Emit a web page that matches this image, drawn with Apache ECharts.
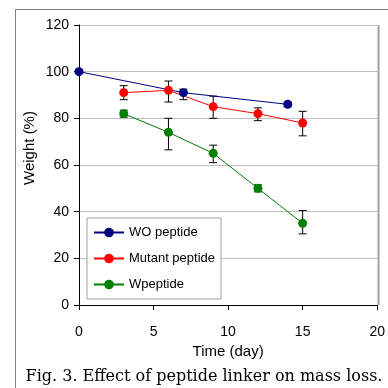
<!DOCTYPE html>
<html>
<head>
<meta charset="utf-8">
<script src="https://cdn.jsdelivr.net/npm/echarts@6/dist/echarts.min.js"></script>
<style>
  html, body { margin: 0; padding: 0; background: #fff; }
  #chart { width: 388px; height: 388px; }
</style>
</head>
<body>
<div id="chart"></div>
<script>
// WO peptide
const woDays = [0, 7, 14]
const woWeight = [100, 91, 86]
const woLow = [100, 88, 85]
const woHigh = [100, 92.5, 87]

// Mutant peptide and W peptide share the same sampling days
const days = [3, 6, 9, 12, 15]
const mutantWeight = [91, 92, 85, 82, 78]
const mutantLow = [88, 87, 80, 79, 72.5]
const mutantHigh = [94, 96, 89.5, 84.5, 83]
const wWeight = [82, 74, 65, 50, 35]
const wLow = [80.5, 66.5, 61, 48.5, 30.5]
const wHigh = [83.5, 80, 68.5, 51.5, 40.5]

const seriesNames = ["WO peptide", "Mutant peptide", "Wpeptide"]
const colors = ["#000080", "#ff0000", "#008000"]

const chart = echarts.init(document.getElementById("chart"))

const pair = (xs, ys) => xs.map((x, i) => [x, ys[i]])
const triple = (xs, lo, hi) => xs.map((x, i) => [x, lo[i], hi[i]])

const errorBars = (data) => ({
  type: "custom",
  z: 1,
  silent: true,
  data: data,
  encode: { x: 0, y: [1, 2] },
  renderItem: (params, api) => {
    const lo = api.coord([api.value(0), api.value(1)])
    const hi = api.coord([api.value(0), api.value(2)])
    const style = { stroke: "#000", lineWidth: 1 }
    return {
      type: "group",
      children: [
        { type: "line", shape: { x1: lo[0], y1: lo[1], x2: hi[0], y2: hi[1] }, style },
        { type: "line", shape: { x1: lo[0] - 4, y1: lo[1], x2: lo[0] + 4, y2: lo[1] }, style },
        { type: "line", shape: { x1: hi[0] - 4, y1: hi[1], x2: hi[0] + 4, y2: hi[1] }, style },
      ],
    }
  },
})

const lineSeries = (name, color, data) => ({
  name: name,
  type: "line",
  z: 3,
  data: data,
  symbol: "circle",
  symbolSize: 9,
  lineStyle: { color: color, width: 1 },
  itemStyle: { color: color },
})

const option = {
  animation: false,
  backgroundColor: "#fff",
  textStyle: { fontFamily: "Liberation Sans, Arial, sans-serif", color: "#000" },
  grid: { left: 79, top: 25, right: 10, bottom: 83 },
  legend: {
    data: seriesNames,
    orient: "vertical",
    left: 87,
    top: 218,
    itemWidth: 30,
    itemHeight: 12,
    itemGap: 13,
    padding: [8, 6, 8, 6],
    backgroundColor: "#fff",
    borderColor: "#a0a0a0",
    borderWidth: 1,
    textStyle: { fontSize: 13, color: "#000" },
  },
  xAxis: {
    type: "value",
    min: 0,
    max: 20,
    interval: 5,
    name: "Time (day)",
    nameLocation: "middle",
    nameGap: 39,
    nameTextStyle: { fontSize: 15, color: "#000" },
    axisLine: { lineStyle: { color: "#000" } },
    axisTick: { show: true, length: 5, lineStyle: { color: "#000" } },
    axisLabel: { fontSize: 14, color: "#000", margin: 20 },
    splitLine: { show: false },
  },
  yAxis: {
    type: "value",
    min: 0,
    max: 120,
    interval: 20,
    axisLine: { show: true, lineStyle: { color: "#000" } },
    axisTick: { show: true, length: 5, lineStyle: { color: "#000" } },
    axisLabel: { fontSize: 14, color: "#000", margin: 10 },
    splitLine: { show: true, lineStyle: { color: "#c0c0c0", width: 1 } },
  },
  graphic: [
    {
      type: "rect",
      z: -10,
      shape: { x: 15.5, y: 9.5, width: 400, height: 400 },
      style: { fill: "none", stroke: "#808080", lineWidth: 1 },
    },
    {
      type: "line",
      shape: { x1: 378.5, y1: 25, x2: 378.5, y2: 305 },
      style: { stroke: "#a0a0a0", lineWidth: 2 },
    },
    {
      type: "text",
      x: 30,
      y: 148,
      rotation: Math.PI / 2,
      style: {
        text: "Weight (%)",
        font: "15px 'Liberation Sans', Arial, sans-serif",
        fill: "#000",
        align: "center",
        verticalAlign: "middle",
      },
    },
    {
      type: "text",
      x: 204,
      y: 377,
      style: {
        text: "Fig. 3. Effect of peptide linker on mass loss.",
        font: "16px 'DejaVu Serif', serif",
        fill: "#000",
        align: "center",
        verticalAlign: "middle",
      },
    },
  ],
  series: [
    lineSeries(seriesNames[0], colors[0], pair(woDays, woWeight)),
    lineSeries(seriesNames[1], colors[1], pair(days, mutantWeight)),
    lineSeries(seriesNames[2], colors[2], pair(days, wWeight)),
    errorBars(triple(woDays, woLow, woHigh)),
    errorBars(triple(days, mutantLow, mutantHigh)),
    errorBars(triple(days, wLow, wHigh)),
  ],
}

chart.setOption(option)
</script>
</body>
</html>
